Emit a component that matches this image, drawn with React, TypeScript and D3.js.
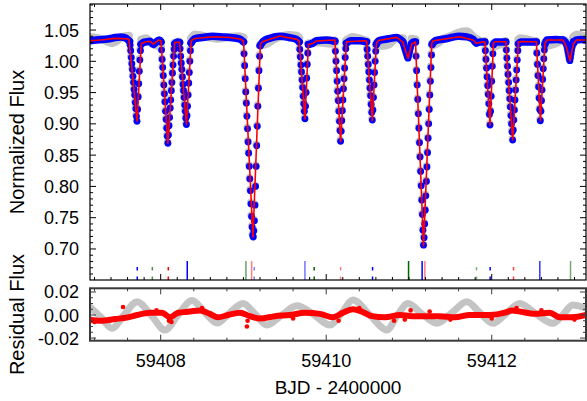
import React from 'react';
import * as d3 from 'd3';

const W = 587;
const H = 401;

// axis domains (days, flux, residual flux)
const timeDomain = [59407.146, 59413.139];
const fluxDomain = [0.6504, 1.0916];
const resDomain = [-0.0223, 0.0232];

const xTickLabels = [59408, 59410, 59412];
const fluxTickLabels = [0.7, 0.75, 0.8, 0.85, 0.9, 0.95, 1.0, 1.05];
const resTickLabels = [-0.02, 0.0, 0.02];

// red model curve (time, flux)
const modelT = [
  59407.146, 59407.3, 59407.448, 59407.58, 59407.617, 59407.714, 59407.765, 59407.822, 59407.877, 59407.911,
  59407.943, 59407.983, 59408.004, 59408.087, 59408.169, 59408.227, 59408.311, 59408.369, 59408.414, 59408.632,
  59408.837, 59408.958, 59409.001, 59409.115, 59409.205, 59409.235, 59409.441, 59409.643, 59409.674, 59409.743,
  59409.785, 59409.843, 59409.876, 59410.105, 59410.174, 59410.244, 59410.467, 59410.488, 59410.557, 59410.606,
  59410.63, 59410.85, 59410.926, 59410.988, 59411.033, 59411.079, 59411.176, 59411.275, 59411.292, 59411.615,
  59411.775, 59411.816, 59411.896, 59411.917, 59411.979, 59412.021, 59412.037, 59412.17, 59412.253, 59412.323,
  59412.351, 59412.539, 59412.588, 59412.643, 59412.665, 59412.862, 59412.903, 59412.945, 59412.986, 59413.024,
  59413.139,
];
const modelF = [
  1.0329, 1.0345, 1.0367, 1.036, 1.0351, 0.9046, 1.0284, 1.0313, 1.0316, 1.0276,
  1.0308, 1.034, 1.0324, 0.8689, 1.03, 1.0308, 0.8993, 1.0332, 1.0364, 1.0393,
  1.038, 1.0356, 1.0324, 0.7192, 1.0276, 1.0316, 1.0404, 1.0351, 1.0324, 0.9078,
  1.0268, 1.0287, 1.0324, 1.034, 0.8715, 1.0313, 1.0329, 1.0324, 0.905, 1.0287,
  1.0332, 1.0383, 1.0308, 1.0048, 1.0276, 1.031, 0.7048, 1.0284, 1.0329, 1.0393,
  1.034, 1.0287, 1.0313, 1.0308, 0.8982, 1.0287, 1.0313, 1.0313, 0.8742, 1.0308,
  1.0316, 1.0313, 0.905, 1.0287, 1.034, 1.034, 1.0228, 1.0009, 1.0276, 1.034,
  1.034,
];

// detrended observations outside eclipses (dense, drawn as a band; NaN = gap)
const bandT = [
  59407.146, 59407.22, 59407.3, 59407.38, 59407.45, 59407.52, 59407.58, 59407.624, NaN,
  59407.763, 59407.79, 59407.83, 59407.87, 59407.91, 59407.94, 59407.98, 59408.004, NaN,
  59408.171, 59408.2, 59408.228, NaN,
  59408.367, 59408.41, 59408.5, 59408.63, 59408.75, 59408.84, 59408.95, 59409.001, NaN,
  59409.202, 59409.24, 59409.32, 59409.44, 59409.55, 59409.64, 59409.674, NaN,
  59409.785, 59409.84, 59409.88, 59410.0, 59410.105, NaN,
  59410.244, 59410.3, 59410.4, 59410.488, NaN,
  59410.606, 59410.635, 59410.75, 59410.85, 59410.926, NaN,
  59411.03, 59411.055, 59411.079, NaN,
  59411.28, 59411.32, 59411.45, 59411.6, 59411.7, 59411.775, 59411.816, 59411.86, 59411.917, NaN,
  59412.021, 59412.045, 59412.1, 59412.17, NaN,
  59412.323, 59412.35, 59412.45, 59412.539, NaN,
  59412.643, 59412.665, 59412.78, 59412.86, 59412.903, NaN,
  59412.986, 59413.02, 59413.08, 59413.139,
];
const bandF = [
  1.033, 1.034, 1.035, 1.036, 1.038, 1.039, 1.037, 1.032, NaN,
  1.027, 1.03, 1.031, 1.032, 1.027, 1.03, 1.034, 1.031, NaN,
  1.028, 1.031, 1.03, NaN,
  1.029, 1.036, 1.038, 1.04, 1.039, 1.038, 1.036, 1.031, NaN,
  1.025, 1.032, 1.037, 1.04, 1.038, 1.035, 1.031, NaN,
  1.027, 1.029, 1.033, 1.034, 1.032, NaN,
  1.029, 1.033, 1.033, 1.031, NaN,
  1.027, 1.033, 1.036, 1.038, 1.031, NaN,
  1.028, 1.031, 1.031, NaN,
  1.027, 1.033, 1.036, 1.04, 1.039, 1.035, 1.029, 1.031, 1.031, NaN,
  1.027, 1.031, 1.031, 1.031, NaN,
  1.028, 1.031, 1.031, 1.031, NaN,
  1.027, 1.034, 1.035, 1.034, 1.028, NaN,
  1.028, 1.034, 1.035, 1.034,
];

// raw (not detrended) observations outside eclipses, grey band
const rawT = [
  59407.146, 59407.279, 59407.412, 59407.557, 59407.617, NaN,
  59407.765, 59407.822, 59407.883, 59407.943, 59408.004, NaN,
  59408.171, 59408.228, NaN,
  59408.367, 59408.41, 59408.5, 59408.632, 59408.68, 59408.84, 59408.95, 59409.001, NaN,
  59409.202, 59409.284, 59409.38, 59409.465, 59409.55, 59409.646, 59409.674, NaN,
  59409.785, 59409.84, 59409.92, 59410.045, 59410.105, NaN,
  59410.244, 59410.322, 59410.43, 59410.488, NaN,
  59410.606, 59410.7, 59410.76, 59410.854, 59410.926, NaN,
  59411.03, 59411.079, NaN,
  59411.28, 59411.337, 59411.43, 59411.518, 59411.6, 59411.7, 59411.78, 59411.856, 59411.917, NaN,
  59412.021, 59412.08, 59412.17, NaN,
  59412.323, 59412.339, 59412.43, 59412.539, NaN,
  59412.643, 59412.738, 59412.8, 59412.858, 59412.903, NaN,
  59412.986, 59413.03, 59413.139,
];
const rawF = [
  1.039, 1.036, 1.029, 1.04, 1.041, NaN,
  1.035, 1.037, 1.03, 1.025, 1.024, NaN,
  1.023, 1.03, NaN,
  1.037, 1.043, 1.041, 1.037, 1.036, 1.039, 1.04, 1.038, NaN,
  1.025, 1.028, 1.036, 1.04, 1.042, 1.041, 1.038, NaN,
  1.028, 1.03, 1.03, 1.028, 1.03, NaN,
  1.034, 1.039, 1.035, 1.033, NaN,
  1.025, 1.025, 1.027, 1.037, 1.037, NaN,
  1.036, 1.035, NaN,
  1.025, 1.028, 1.037, 1.041, 1.046, 1.048, 1.039, 1.033, 1.029, NaN,
  1.023, 1.026, 1.03, NaN,
  1.035, 1.037, 1.035, 1.031, NaN,
  1.024, 1.027, 1.03, 1.035, 1.031, NaN,
  1.039, 1.043, 1.039,
];

// in-eclipse observations: start time of each run and fluxes at the observing cadence
const cadence = 0.00694;
const dipStart = [
  59407.624, 59408.004, 59408.228, 59409.001, 59409.674, 59410.105, 59410.488,
  59410.926, 59411.079, 59411.917, 59412.17, 59412.539, 59412.903,
];
const dipFlux = [
  [1.032, 1.026, 1.017, 1.006, 0.996, 0.987, 0.976, 0.966, 0.955, 0.946, 0.934, 0.924, 0.912, 0.904, 0.923, 0.943, 0.964, 0.984, 1.002, 1.017, 1.027],
  [1.031, 1.018, 1.003, 0.99, 0.977, 0.962, 0.948, 0.935, 0.92, 0.907, 0.893, 0.88, 0.869, 0.882, 0.897, 0.91, 0.925, 0.938, 0.953, 0.966, 0.981, 0.994, 1.008, 1.019, 1.028],
  [1.03, 1.02, 1.008, 0.997, 0.987, 0.975, 0.963, 0.953, 0.942, 0.93, 0.92, 0.909, 0.899, 0.913, 0.928, 0.946, 0.965, 0.982, 1.0, 1.017, 1.029],
  [1.031, 1.012, 0.993, 0.972, 0.951, 0.933, 0.912, 0.892, 0.871, 0.853, 0.832, 0.812, 0.793, 0.772, 0.752, 0.735, 0.722, 0.719, 0.729, 0.745, 0.77, 0.8, 0.832, 0.865, 0.896, 0.928, 0.957, 0.985, 1.008, 1.025],
  [1.031, 1.019, 1.007, 0.994, 0.983, 0.97, 0.958, 0.944, 0.932, 0.92, 0.908, 0.928, 0.95, 0.973, 0.995, 1.013, 1.027],
  [1.032, 1.016, 1.0, 0.985, 0.968, 0.952, 0.937, 0.92, 0.904, 0.889, 0.872, 0.888, 0.905, 0.921, 0.938, 0.956, 0.972, 0.989, 1.006, 1.02, 1.029],
  [1.031, 1.019, 1.008, 0.995, 0.983, 0.97, 0.957, 0.945, 0.931, 0.918, 0.906, 0.922, 0.942, 0.962, 0.982, 1.0, 1.016, 1.027],
  [1.031, 1.028, 1.025, 1.022, 1.019, 1.016, 1.013, 1.01, 1.007, 1.005, 1.009, 1.013, 1.017, 1.021, 1.025, 1.028],
  [1.031, 1.008, 0.985, 0.962, 0.939, 0.916, 0.893, 0.87, 0.847, 0.824, 0.801, 0.778, 0.755, 0.73, 0.706, 0.718, 0.74, 0.762, 0.785, 0.808, 0.831, 0.854, 0.877, 0.9, 0.923, 0.946, 0.968, 0.99, 1.01, 1.027],
  [1.031, 1.017, 1.003, 0.989, 0.975, 0.961, 0.947, 0.932, 0.915, 0.898, 0.92, 0.944, 0.968, 0.992, 1.012, 1.027],
  [1.031, 1.018, 1.005, 0.992, 0.979, 0.966, 0.953, 0.94, 0.927, 0.913, 0.9, 0.887, 0.874, 0.89, 0.906, 0.922, 0.938, 0.954, 0.97, 0.986, 1.002, 1.017, 1.028],
  [1.031, 1.013, 0.995, 0.977, 0.959, 0.941, 0.923, 0.905, 0.92, 0.937, 0.954, 0.971, 0.988, 1.004, 1.018, 1.028],
  [1.028, 1.024, 1.019, 1.014, 1.009, 1.004, 1.001, 1.006, 1.012, 1.018, 1.023, 1.028, 1.032],
];

// predicted eclipse times (markers at the bottom of the upper panel)
const markerT = [
  59407.717, 59407.899, 59408.092, 59408.321, 59409.03, 59409.099, 59409.13, 59409.743, 59409.855, 59410.174,
  59410.56, 59410.995, 59411.159, 59411.192, 59411.816, 59411.981, 59412.263, 59412.581, 59412.952,
];
const markerColor = [
  '#0000ff', '#006400', '#ff0000', '#0000ff', '#006400', '#ff0000', '#0000ff', '#0000ff', '#006400', '#ff0000',
  '#0000ff', '#006400', '#0000ff', '#ff0000', '#006400', '#0000ff', '#ff0000', '#0000ff', '#006400',
];
const markerAlpha = [1, 0.7, 1, 1, 0.6, 0.5, 0.5, 0.55, 1, 0.5, 1, 1, 1, 0.5, 0.5, 1, 0.75, 0.8, 0.55];
const markerDashed = [true, true, true, false, false, false, true, false, true, true, true, false, false, false, true, true, true, false, false];

// residuals of the raw data (grey) and of the detrended data (red)
const resGreyT = [
  59407.146, 59407.279, 59407.412, 59407.557, 59407.714, 59407.883, 59408.052, 59408.209, 59408.378, 59408.535,
  59408.68, 59408.837, 59408.994, 59409.139, 59409.284, 59409.465, 59409.646, 59409.839, 59410.045, 59410.19,
  59410.322, 59410.528, 59410.734, 59410.854, 59410.987, 59411.156, 59411.337, 59411.518, 59411.699, 59411.856,
  59412.013, 59412.17, 59412.339, 59412.532, 59412.738, 59412.858, 59412.979, 59413.139,
];
const resGreyF = [
  0.007, -0.002, -0.0115, 0.0, 0.0115, 0.0, -0.013, 0.0, 0.0125, 0.002,
  -0.007, 0.002, 0.01, 0.001, -0.0087, 0.0, 0.008, 0.001, -0.0087, 0.002,
  0.013, 0.0, -0.013, -0.001, 0.01, 0.001, -0.0072, 0.002, 0.0116, 0.002,
  -0.0072, 0.001, 0.01, 0.001, -0.0072, 0.0, 0.0087, 0.006,
];
const resRedT = [
  59407.146, 59407.267, 59407.448, 59407.605, 59407.714, 59407.871, 59408.016, 59408.112, 59408.209, 59408.354,
  59408.475, 59408.595, 59408.692, 59408.813, 59408.958, 59409.078, 59409.199, 59409.38, 59409.562, 59409.743,
  59409.924, 59410.081, 59410.202, 59410.322, 59410.431, 59410.552, 59410.709, 59410.89, 59411.035, 59411.192,
  59411.373, 59411.554, 59411.735, 59411.977, 59412.158, 59412.243, 59412.339, 59412.52, 59412.701, 59412.822,
  59412.967, 59413.139,
];
const resRedF = [
  -0.004, -0.005, -0.0035, -0.002, 0.0, 0.002, 0.002, -0.002, 0.002, 0.003,
  0.004, 0.001, -0.002, 0.0, 0.002, -0.001, -0.003, -0.001, 0.0, 0.002,
  0.001, -0.002, 0.002, 0.005, 0.003, -0.001, -0.002, 0.0, -0.001, -0.001,
  -0.001, -0.002, 0.0, 0.0, 0.002, 0.004, 0.003, 0.001, 0.002, -0.002,
  -0.002, 0.0,
];
// scattered residual points lying off the band
const resOutT = [
  59409.042, 59408.1, 59408.13, 59407.545, 59410.82, 59411.02, 59410.15, 59412.3, 59409.05, 59410.95,
  59411.25, 59407.2, 59407.95, 59408.5, 59409.6, 59410.4, 59411.5, 59412.0, 59412.6, 59413.0,
];
const resOutF = [
  -0.01, -0.005, -0.006, 0.007, -0.005, 0.004, -0.005, 0.006, -0.005, -0.004,
  0.003, -0.006, 0.004, 0.006, -0.003, 0.006, -0.004, -0.003, 0.004, -0.004,
];

const FONT = '"Liberation Sans", Arial, Helvetica, sans-serif';

export default function App() {
  const L = 90, R = 586;
  const topT = 4, topB = 280;
  const resT = 288.3, resB = 340.7;

  const x = d3.scaleLinear().domain(timeDomain).range([L, R]);
  const y = d3.scaleLinear().domain(fluxDomain).range([topB, topT]);
  const yr = d3.scaleLinear().domain(resDomain).range([resB, resT]);

  const pairs = (ts: number[], fs: number[]) => ts.map((t, i) => [t, fs[i]] as [number, number]);
  const lineTop = d3.line<[number, number]>()
    .defined((d) => !isNaN(d[0]) && !isNaN(d[1]))
    .x((d) => x(d[0]))
    .y((d) => y(d[1]));
  const lineRes = d3.line<[number, number]>()
    .defined((d) => !isNaN(d[0]) && !isNaN(d[1]))
    .x((d) => x(d[0]))
    .y((d) => yr(d[1]))
    .curve(d3.curveMonotoneX);

  const modelPath = lineTop(pairs(modelT, modelF)) || '';
  const bandPath = lineTop.curve(d3.curveMonotoneX)(pairs(bandT, bandF)) || '';
  const rawPath = lineTop.curve(d3.curveMonotoneX)(pairs(rawT, rawF)) || '';
  const resGreyPath = lineRes(pairs(resGreyT, resGreyF)) || '';
  const resRedPath = lineRes(pairs(resRedT, resRedF)) || '';

  const dipDots: [number, number][] = [];
  dipStart.forEach((t0, i) => {
    dipFlux[i].forEach((f, j) => dipDots.push([t0 + j * cadence, f]));
  });

  // ticks
  const ticks = (a: number, b: number, step: number) => {
    const out: number[] = [];
    const n = Math.round((b - a) / step);
    for (let i = 0; i <= n; i++) out.push(+(a + i * step).toFixed(6));
    return out;
  };
  const xMinorBottom = ticks(59407.2, 59413.0, 0.2);
  const xMinorTop = ticks(59407.2, 59413.0, 0.4);
  const xMinorRes = ticks(59407.2, 59413.0, 0.4);
  const fluxMinor = ticks(0.66, 1.09, 0.01);
  const resMinor = ticks(-0.02, 0.02, 0.005);
  const isMajorX = (t: number) => Math.abs(t - Math.round(t)) < 1e-6 && Math.round(t) % 2 === 0;
  const isMajorF = (f: number) => Math.abs(f * 20 - Math.round(f * 20)) < 1e-6;
  const isMajorR = (f: number) => Math.abs(f * 50 - Math.round(f * 50)) < 1e-6;

  const tickStroke = '#000';
  const resFrame = '#3a3a3a';

  return (
    <svg width={W} height={H} style={{ position: 'absolute', left: 0, top: 0, background: '#fff' }}
      xmlns="http://www.w3.org/2000/svg">
      <rect x={0} y={0} width={W} height={H} fill="#fff" />
      <defs>
        <clipPath id="clipTop"><rect x={L} y={topT} width={R - L} height={topB - topT} /></clipPath>
        <clipPath id="clipRes"><rect x={L} y={resT} width={R - L} height={resB - resT} /></clipPath>
      </defs>

      {/* upper panel data */}
      <g clipPath="url(#clipTop)">
        <path d={rawPath} fill="none" stroke="#c4c4c4" strokeWidth={8} strokeLinecap="round" strokeLinejoin="round" />
        {dipDots.map((d, i) => (
          <circle key={'g' + i} cx={x(d[0]) - 0.4} cy={y(d[1]) - 1.2} r={3.8} fill="#c4c4c4" />
        ))}
        <path d={bandPath} fill="none" stroke="#0000ff" strokeWidth={7.5} strokeLinecap="round" strokeLinejoin="round" />
        {dipDots.map((d, i) => (
          <circle key={'b' + i} cx={x(d[0])} cy={y(d[1])} r={3.4} fill="#0000ff" />
        ))}
        <path d={modelPath} fill="none" stroke="#ff0000" strokeWidth={1.6} strokeLinejoin="round" />
        {markerT.map((t, i) => (
          <line key={'m' + i} x1={x(t)} x2={x(t)} y1={topB} y2={topB - 19}
            stroke={markerColor[i]} strokeOpacity={markerAlpha[i]} strokeWidth={1.5}
            strokeDasharray={markerDashed[i] ? '3.5 6' : undefined} />
        ))}
      </g>

      {/* upper panel ticks */}
      {xMinorBottom.map((t, i) => (
        <line key={'xb' + i} x1={x(t)} x2={x(t)} y1={topB} y2={topB - (isMajorX(t) ? 6 : 3)} stroke={tickStroke} strokeWidth={1} />
      ))}
      {xMinorTop.map((t, i) => (
        <line key={'xt' + i} x1={x(t)} x2={x(t)} y1={topT} y2={topT + (isMajorX(t) ? 6 : 3)} stroke={tickStroke} strokeWidth={1} />
      ))}
      {fluxMinor.map((f, i) => (
        <g key={'fy' + i}>
          <line x1={L} x2={L + (isMajorF(f) ? 6 : 3)} y1={y(f)} y2={y(f)} stroke={tickStroke} strokeWidth={1} />
          <line x1={R} x2={R - (isMajorF(f) ? 6 : 3)} y1={y(f)} y2={y(f)} stroke={tickStroke} strokeWidth={1} />
        </g>
      ))}
      <rect x={L} y={topT} width={R - L} height={topB - topT} fill="none" stroke="#000" strokeWidth={1.2} />
      {fluxTickLabels.map((f, i) => (
        <text key={'fl' + i} x={79} y={y(f) + 6.5} textAnchor="end" fontFamily={FONT} fontSize={18} fill="#000">
          {f.toFixed(2)}
        </text>
      ))}

      {/* residual panel data */}
      <g clipPath="url(#clipRes)">
        <path d={resGreyPath} fill="none" stroke="#c4c4c4" strokeWidth={7} strokeLinecap="round" strokeLinejoin="round" />
        <path d={resRedPath} fill="none" stroke="#ff0000" strokeWidth={6} strokeLinecap="round" strokeLinejoin="round" />
        {resOutT.map((t, i) => (
          <circle key={'ro' + i} cx={x(t)} cy={yr(resOutF[i])} r={2.3} fill="#ff0000" />
        ))}
      </g>
      {xMinorRes.map((t, i) => (
        <g key={'xr' + i}>
          <line x1={x(t)} x2={x(t)} y1={resB} y2={resB - (isMajorX(t) ? 6 : 3)} stroke={resFrame} strokeWidth={1} />
          <line x1={x(t)} x2={x(t)} y1={resT} y2={resT + (isMajorX(t) ? 6 : 3)} stroke={resFrame} strokeWidth={1} />
        </g>
      ))}
      {resMinor.map((f, i) => (
        <g key={'ry' + i}>
          <line x1={L} x2={L + (isMajorR(f) ? 6 : 3)} y1={yr(f)} y2={yr(f)} stroke={resFrame} strokeWidth={1} />
          <line x1={R} x2={R - (isMajorR(f) ? 6 : 3)} y1={yr(f)} y2={yr(f)} stroke={resFrame} strokeWidth={1} />
        </g>
      ))}
      <rect x={L} y={resT} width={R - L} height={resB - resT} fill="none" stroke={resFrame} strokeWidth={2} />
      {resTickLabels.map((f, i) => (
        <text key={'rl' + i} x={79} y={yr(f) + 6.5} textAnchor="end" fontFamily={FONT} fontSize={18} fill="#000">
          {f.toFixed(2)}
        </text>
      ))}
      {xTickLabels.map((t, i) => (
        <text key={'xl' + i} x={x(t)} y={366.5} textAnchor="middle" fontFamily={FONT} fontSize={18} fill="#000">
          {t}
        </text>
      ))}

      {/* axis titles */}
      <text transform={`translate(24, ${(topT + topB) / 2}) rotate(-90)`} textAnchor="middle" fontFamily={FONT} fontSize={20} fill="#000">
        Normalized Flux
      </text>
      <text transform={`translate(24, ${(resT + resB) / 2}) rotate(-90)`} textAnchor="middle" fontFamily={FONT} fontSize={20} fill="#000">
        Residual Flux
      </text>
      <text x={(L + R) / 2} y={394} textAnchor="middle" fontFamily={FONT} fontSize={19} fill="#000">
        BJD - 2400000
      </text>
    </svg>
  );
}
